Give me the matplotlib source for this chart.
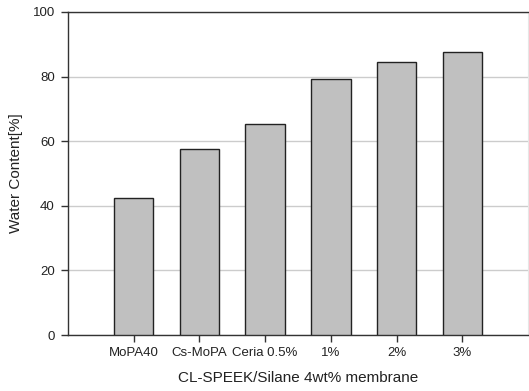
import matplotlib
matplotlib.use("Agg")
import matplotlib.pyplot as plt

categories = ["MoPA40", "Cs-MoPA", "Ceria 0.5%", "1%", "2%", "3%"]
water_content = [42.4, 57.6, 65.3, 79.3, 84.5, 87.6]
y_ticks = [0, 20, 40, 60, 80, 100]

plt.rcParams['font.family'] = ['Liberation Sans', 'DejaVu Sans']

fig = plt.figure(figsize=(5.29, 3.91), dpi=100)
ax = fig.add_axes([68/529, 56/391, 460/529, 323/391])

positions = list(range(1, len(categories) + 1))
ax.bar(positions, water_content, width=0.6, color="#c0c0c0",
       edgecolor="#222222", linewidth=1.0, zorder=3)

ax.set_xlim(0, 7)
ax.set_ylim(0, 100)
ax.set_yticks(y_ticks)
ax.set_xticks(positions)
ax.set_xticklabels(categories)
ax.yaxis.grid(True, color="#cccccc", linewidth=1.0, zorder=0)
ax.set_axisbelow(True)

for s in ["left", "bottom", "top"]:
    ax.spines[s].set_color("#333333")
    ax.spines[s].set_linewidth(1.0)
ax.spines["right"].set_color("#e6e6e6")

ax.tick_params(axis="both", direction="out", length=5, width=1.0,
               color="#333333", labelsize=9.5, labelcolor="#222222", pad=4)
ax.tick_params(axis="y", pad=4.5)

ax.set_ylabel("Water Content[%]", fontsize=11, color="#222222")
ax.set_xlabel("CL-SPEEK/Silane 4wt% membrane", fontsize=11, color="#222222")
ax.yaxis.set_label_coords(-0.098, 0.5)
ax.xaxis.set_label_coords(0.5, -0.111)

fig.savefig("out.png", dpi=100)
